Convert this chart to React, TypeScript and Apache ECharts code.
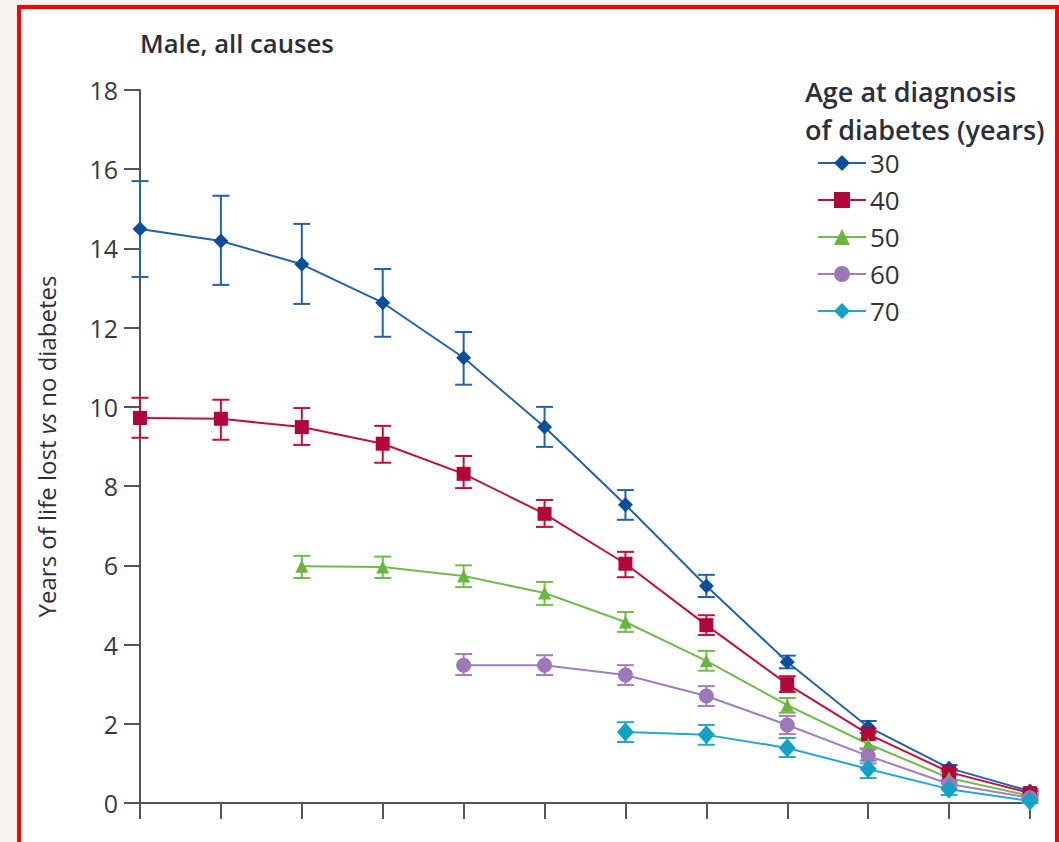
import React, { useEffect, useRef } from "react";
import * as echarts from "echarts";

const ages = ["40", "45", "50", "55", "60", "65", "70", "75", "80", "85", "90", "95"];
const yTicks = [0, 2, 4, 6, 8, 10, 12, 14, 16, 18];

const groupNames = ["30", "40", "50", "60", "70"];

const v30 = [14.49, 14.19, 13.6, 12.63, 11.24, 9.49, 7.53, 5.48, 3.56, 1.92, 0.88, 0.3];
const lo30 = [13.28, 13.08, 12.6, 11.77, 10.56, 8.99, 7.15, 5.2, 3.4, 1.77, 0.8, 0.24];
const hi30 = [15.7, 15.33, 14.62, 13.48, 11.89, 10.0, 7.9, 5.76, 3.72, 2.07, 0.96, 0.36];

const v40 = [9.72, 9.7, 9.49, 9.07, 8.31, 7.3, 6.04, 4.49, 3.0, 1.74, 0.78, 0.25];
const lo40 = [9.22, 9.17, 9.04, 8.59, 7.95, 6.97, 5.7, 4.24, 2.8, 1.6, 0.7, 0.2];
const hi40 = [10.23, 10.18, 9.97, 9.52, 8.76, 7.65, 6.34, 4.74, 3.2, 1.88, 0.86, 0.3];

const v50 = [null, null, 5.98, 5.96, 5.73, 5.3, 4.57, 3.59, 2.47, 1.49, 0.63, 0.18];
const lo50 = [null, null, 5.68, 5.68, 5.45, 5.0, 4.32, 3.34, 2.28, 1.35, 0.55, 0.13];
const hi50 = [null, null, 6.24, 6.22, 6.0, 5.58, 4.82, 3.84, 2.65, 1.63, 0.71, 0.23];

const v60 = [null, null, null, null, 3.48, 3.48, 3.23, 2.7, 1.97, 1.19, 0.48, 0.13];
const lo60 = [null, null, null, null, 3.23, 3.23, 2.98, 2.45, 1.74, 1.0, 0.38, 0.08];
const hi60 = [null, null, null, null, 3.76, 3.73, 3.48, 2.95, 2.2, 1.38, 0.58, 0.18];

const v70 = [null, null, null, null, null, null, 1.79, 1.72, 1.39, 0.86, 0.35, 0.05];
const lo70 = [null, null, null, null, null, null, 1.54, 1.47, 1.16, 0.63, 0.2, 0.0];
const hi70 = [null, null, null, null, null, null, 2.04, 1.97, 1.64, 1.07, 0.5, 0.12];

const FONT = "'Open Sans', 'Noto Sans', sans-serif";
const TEXT = "#2e2e3a";

export default function App() {
  const ref = useRef<HTMLDivElement>(null);

  useEffect(() => {
    if (!ref.current) return;
    const chart = echarts.init(ref.current, null, { renderer: "svg" });

    const groups = [
      { name: groupNames[0], v: v30, lo: lo30, hi: hi30, line: "#2462a8", mark: "#0b4f9c", symbol: "diamond", size: [15, 15] },
      { name: groupNames[1], v: v40, lo: lo40, hi: hi40, line: "#c0103f", mark: "#b0063a", symbol: "rect", size: 14 },
      { name: groupNames[2], v: v50, lo: lo50, hi: hi50, line: "#72bb4c", mark: "#6ab53f", symbol: "triangle", size: 13 },
      { name: groupNames[3], v: v60, lo: lo60, hi: hi60, line: "#a07ec0", mark: "#9c78b8", symbol: "circle", size: 15 },
      { name: groupNames[4], v: v70, lo: lo70, hi: hi70, line: "#25a8cc", mark: "#12a2c6", symbol: "diamond", size: [17, 19] },
    ];

    const series: any[] = [];
    groups.forEach((g) => {
      const errData = g.v
        .map((val, i) => (val == null ? null : [i, g.lo[i], g.hi[i]]))
        .filter((d) => d != null);
      series.push({
        type: "custom",
        name: g.name + " CI",
        z: 1,
        silent: true,
        data: errData,
        renderItem: (params: any, api: any) => {
          const x = api.value(0);
          const lowP = api.coord([x, api.value(1)]);
          const highP = api.coord([x, api.value(2)]);
          const half = 8.5;
          const style = { stroke: g.line, lineWidth: 2, fill: "none" };
          return {
            type: "group",
            children: [
              { type: "line", shape: { x1: highP[0], y1: highP[1], x2: lowP[0], y2: lowP[1] }, style },
              { type: "line", shape: { x1: highP[0] - half, y1: highP[1], x2: highP[0] + half, y2: highP[1] }, style },
              { type: "line", shape: { x1: lowP[0] - half, y1: lowP[1], x2: lowP[0] + half, y2: lowP[1] }, style },
            ],
          };
        },
      });
      series.push({
        type: "line",
        name: g.name,
        z: 3,
        data: g.v.map((val) => (val == null ? "-" : val)),
        symbol: g.symbol,
        symbolSize: g.size,
        showSymbol: true,
        connectNulls: false,
        lineStyle: { color: g.line, width: 2 },
        itemStyle: { color: g.mark, borderWidth: 0 },
        emphasis: { disabled: true },
      });
    });

    chart.setOption({
      animation: false,
      backgroundColor: "#f6f2ed",
      graphic: [
        {
          type: "rect",
          z: -10,
          shape: { x: 19, y: 7, width: 1038, height: 860 },
          style: { fill: "#ffffff", stroke: "#ff0000", lineWidth: 4 },
        },
        {
          type: "text",
          x: 140,
          y: 43,
          style: {
            text: "Male, all causes",
            font: `600 25.7px ${FONT}`,
            fill: TEXT,
            textVerticalAlign: "middle",
          },
        },
        {
          type: "text",
          x: 805,
          y: 91,
          style: {
            text: "Age at diagnosis",
            font: `600 27px ${FONT}`,
            fill: TEXT,
            textVerticalAlign: "middle",
          },
        },
        {
          type: "text",
          x: 805,
          y: 129,
          style: {
            text: "of diabetes (years)",
            font: `600 27px ${FONT}`,
            fill: TEXT,
            textVerticalAlign: "middle",
          },
        },
      ],
      legend: {
        data: groupNames,
        orient: "vertical",
        left: 812,
        top: 145,
        itemWidth: 48,
        itemHeight: 20,
        itemGap: 11,
        selectedMode: false,
        textStyle: { fontFamily: FONT, fontSize: 26, lineHeight: 26, color: "#333", padding: [0, 0, 0, -1] },
      },
      grid: { left: 140, right: 29, top: 90, bottom: 39, containLabel: false },
      xAxis: {
        type: "category",
        data: ages,
        boundaryGap: false,
        axisLine: { show: true, lineStyle: { color: "#555", width: 2 } },
        axisTick: { show: true, inside: false, length: 16, alignWithLabel: true, lineStyle: { color: "#555", width: 2 } },
        axisLabel: { show: false },
        splitLine: { show: false },
      },
      yAxis: {
        type: "value",
        min: 0,
        max: 18,
        interval: 2,
        name: "Years of life lost {i|vs} no diabetes",
        nameLocation: "middle",
        nameRotate: 90,
        nameGap: 82,
        nameTextStyle: {
          fontFamily: FONT,
          fontSize: 24,
          color: TEXT,
          rich: { i: { fontStyle: "italic", fontFamily: FONT, fontSize: 24, color: TEXT } },
        },
        axisLine: { show: true, lineStyle: { color: "#555", width: 2 } },
        axisTick: { show: true, inside: false, length: 16, lineStyle: { color: "#555", width: 2 } },
        axisLabel: {
          margin: 22,
          fontFamily: FONT,
          fontSize: 25,
          color: "#3a3a3a",
          formatter: (v: number) => (yTicks.indexOf(v) >= 0 ? String(v) : ""),
        },
        splitLine: { show: false },
      },
      series,
    });

    return () => chart.dispose();
  }, []);

  return (
    <div
      ref={ref}
      style={{ position: "absolute", left: 0, top: 0, width: 1059, height: 842 }}
    />
  );
}
